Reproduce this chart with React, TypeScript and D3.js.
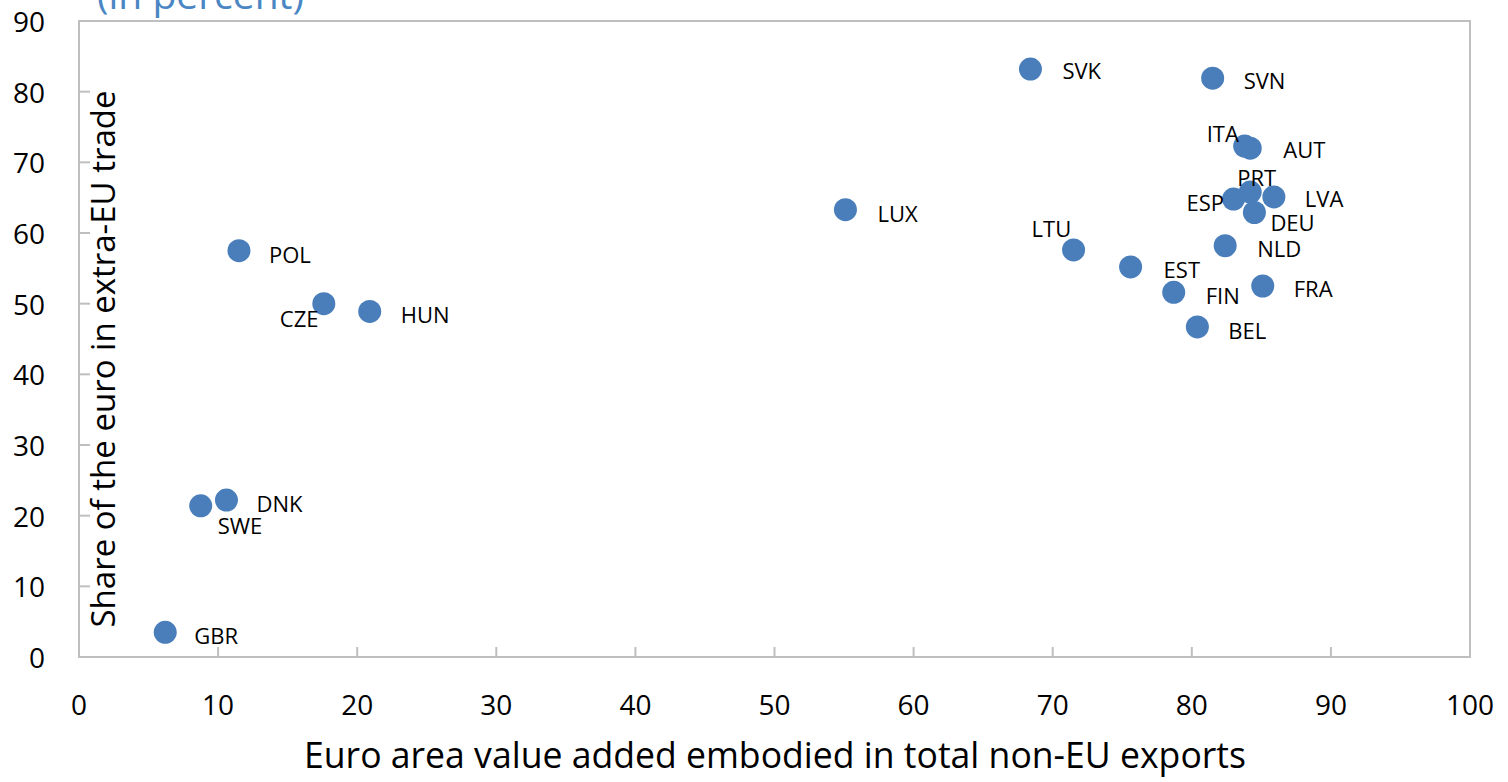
import React from "react";
import * as d3 from "d3";

const countries = ["SVK","SVN","ITA","AUT","PRT","ESP","LVA","DEU","NLD","EST","FIN","FRA","BEL","LTU","LUX","POL","CZE","HUN","DNK","SWE","GBR"];
const valueAdded = [68.4,81.5,83.8,84.2,84.2,83.0,85.9,84.5,82.4,75.6,78.7,85.1,80.4,71.5,55.1,11.5,17.6,20.9,10.6,8.75,6.2];
const euroShare = [83.2,81.9,72.3,72.0,65.8,64.8,65.1,62.9,58.2,55.2,51.6,52.5,46.7,57.6,63.3,57.5,50.0,48.9,22.2,21.4,3.5];
const xTicks = [0,10,20,30,40,50,60,70,80,90,100];
const yTicks = [0,10,20,30,40,50,60,70,80,90];

// label layout offsets (pixels, relative to marker centre)
const labelDx: Record<string, number> = {SVK:32,SVN:31,ITA:-38,AUT:33,PRT:-13,ESP:-47,LVA:31,DEU:16,NLD:32,EST:33,FIN:32,FRA:31,BEL:31,LTU:-42,LUX:32,POL:30,CZE:-44,HUN:31,DNK:30,SWE:17,GBR:29};
const labelDy: Record<string, number> = {SVK:10,SVN:11,ITA:-4,AUT:10,PRT:-6,ESP:12,LVA:10,DEU:18,NLD:11,EST:11,FIN:12,FRA:11,BEL:12,LTU:-13,LUX:12,POL:12,CZE:23,HUN:12,DNK:12,SWE:28,GBR:12};

const W = 1508, H = 782;
const left = 79, right = 1470, top = 21, bottom = 657;
const font = "'Open Sans', 'Noto Sans', sans-serif";

export default function App() {
  const x = d3.scaleLinear().domain([0, 100]).range([left, right]);
  const y = d3.scaleLinear().domain([0, 90]).range([bottom, top]);
  const axisColor = "#bfbfbf";
  const dotColor = "#4a7ebb";
  return (
    <svg width={W} height={H} style={{ position: "absolute", left: 0, top: 0, background: "#fff" }} fontFamily={font}>
      <text x={97} y={9} fontSize={39} fill="#4a86c4">(in percent)</text>
      <rect x={left} y={top} width={right - left} height={bottom - top} fill="none" stroke={axisColor} strokeWidth={2} />
      {xTicks.map((t) => (
        <g key={"x" + t}>
          <line x1={x(t)} x2={x(t)} y1={bottom} y2={bottom - 10} stroke={axisColor} strokeWidth={2} />
          <text x={x(t)} y={715} fontSize={28} textAnchor="middle" fill="#000">{t}</text>
        </g>
      ))}
      {yTicks.map((t) => (
        <g key={"y" + t}>
          <line x1={left} x2={left + 11} y1={y(t)} y2={y(t)} stroke={axisColor} strokeWidth={2} />
          <text x={45} y={y(t) + 11} fontSize={28} textAnchor="end" fill="#000">{t}</text>
        </g>
      ))}
      <text transform={`translate(115, 359) rotate(-90)`} fontSize={33} textAnchor="middle" fill="#000">Share of the euro in extra-EU trade</text>
      <text x={775} y={768} fontSize={35.6} textAnchor="middle" fill="#000">Euro area value added embodied in total non-EU exports</text>
      {countries.map((c, i) => (
        <circle key={"c" + c} cx={x(valueAdded[i])} cy={y(euroShare[i])} r={11.5} fill={dotColor} />
      ))}
      {countries.map((c, i) => (
        <text key={"t" + c} x={x(valueAdded[i]) + labelDx[c]} y={y(euroShare[i]) + labelDy[c]} fontSize={22} fill="#000">{c}</text>
      ))}
    </svg>
  );
}
